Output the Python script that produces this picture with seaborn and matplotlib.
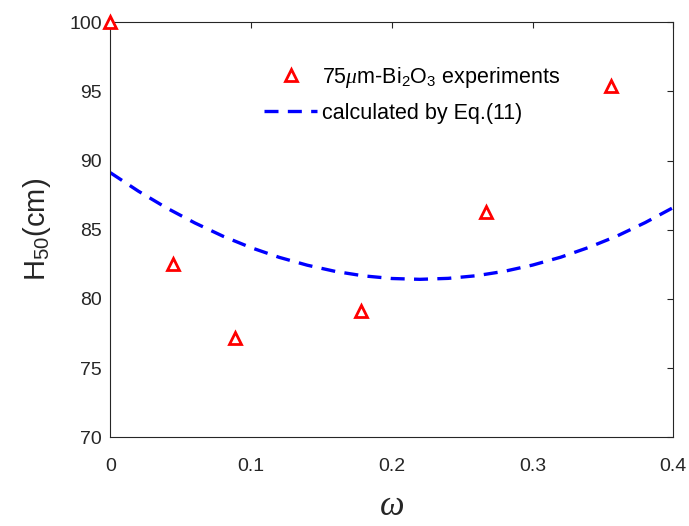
import matplotlib
matplotlib.use("Agg")
import matplotlib.pyplot as plt
import seaborn as sns
import pandas as pd

omega_exp = [0.0, 0.0444, 0.0889, 0.1778, 0.2667, 0.3556]
h50_exp = [100.0, 82.5, 77.2, 79.1, 86.3, 95.4]

# Calculated curve
omega_calc = [0.00, 0.02, 0.04, 0.06, 0.08, 0.10, 0.12, 0.14, 0.16, 0.18, 0.20,
              0.22, 0.24, 0.26, 0.28, 0.30, 0.32, 0.34, 0.36, 0.38, 0.40]
h50_calc = [89.13, 87.79, 86.58, 85.50, 84.54, 83.71, 83.01, 82.44, 81.99, 81.67, 81.48,
            81.42, 81.49, 81.68, 82.00, 82.45, 83.02, 83.73, 84.55, 85.52, 86.61]

xticks = [0, 0.1, 0.2, 0.3, 0.4]
xticklabels = ["0", "0.1", "0.2", "0.3", "0.4"]
yticks = [70, 75, 80, 85, 90, 95, 100]

label_exp = r"75$\mu$m-Bi$_2$O$_3$ experiments"
label_calc = "calculated by Eq.(11)"

sns.set_style("white")
plt.rcParams["font.family"] = ["Liberation Sans", "DejaVu Sans"]
plt.rcParams["mathtext.fontset"] = "custom"
plt.rcParams["mathtext.rm"] = "Liberation Sans"
plt.rcParams["mathtext.it"] = "Liberation Serif:italic"

df_exp = pd.DataFrame({"omega": omega_exp, "H50": h50_exp})
df_calc = pd.DataFrame({"omega": omega_calc, "H50": h50_calc})

fig = plt.figure(figsize=(6.89, 5.26), dpi=100)
ax = fig.add_axes([0.1601, 0.1686, 0.8171, 0.789])

sns.lineplot(data=df_calc, x="omega", y="H50", ax=ax, color=(0, 0, 1),
             linewidth=2.4, linestyle=(0, (4.2, 2.8)), label=label_calc,
             sort=False, zorder=2)
ax.plot(df_exp["omega"], df_exp["H50"], linestyle="none", marker="^",
        markersize=9, markerfacecolor="white", markeredgecolor="red",
        markeredgewidth=2.0, label=label_exp, zorder=3, clip_on=False)

ax.set_xlim(0, 0.4)
ax.set_ylim(70, 100)
ax.set_xticks(xticks)
ax.set_xticklabels(xticklabels)
ax.set_yticks(yticks)

dark = "#262626"
for sp in ax.spines.values():
    sp.set_visible(True)
    sp.set_color(dark)
    sp.set_linewidth(0.8)
ax.tick_params(axis="both", direction="in", length=4, width=0.8, color=dark,
               labelsize=14, labelcolor=dark, top=True, right=True)
ax.tick_params(axis="x", pad=15)
ax.tick_params(axis="y", pad=6)

ax.set_xlabel("ω", family="Liberation Serif", style="italic", fontsize=25,
              color=dark, labelpad=11)
ax.set_ylabel("H$_{50}$(cm)", fontsize=21, color=dark, labelpad=12)

handles, labels = ax.get_legend_handles_labels()
order = [labels.index(label_exp), labels.index(label_calc)]
ax.legend([handles[i] for i in order], [labels[i] for i in order],
          frameon=False, loc="upper left", bbox_to_anchor=(0.238, 0.945),
          fontsize=15.5, handlelength=2.5, handletextpad=0.2,
          labelspacing=0.62, labelcolor="black")

fig.savefig("out.png", dpi=100)
